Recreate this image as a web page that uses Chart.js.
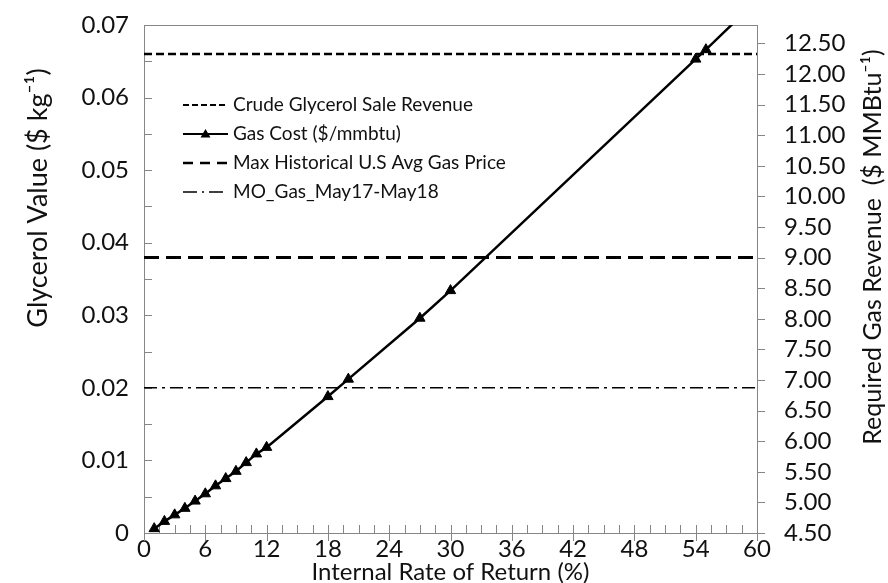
<!DOCTYPE html>
<html><head><meta charset="utf-8">
<script src="https://cdn.jsdelivr.net/npm/chart.js@4.4.1/dist/chart.umd.min.js"></script>
<style>html,body{margin:0;padding:0;background:#fff;}#wrap{width:888px;height:583px;}</style>
</head><body><div id="wrap"><canvas id="c" width="888" height="583"></canvas></div>
<script>
// ---- data ----
const irr = [1,2,3,4,5,6,7,8,9,10,11,12,18,20,27,30,54,55,60];
const gasCost = [0.0006,0.0016,0.0025,0.0034,0.0044,0.0054,0.0065,0.0075,0.0085,0.0097,0.0109,0.0118,0.0188,0.0212,0.0296,0.0334,0.0653,0.0666,0.0734];
const markerShown = [1,1,1,1,1,1,1,1,1,1,1,1,1,1,1,1,1,1,0];
const refX = [0, 60];
const crudeGlycerolValue = 0.066;   // left axis ($ kg-1)
const maxHistGasValue = 9.0;        // right axis ($ MMBtu-1)
const moGasValue = 0.02;            // left axis ($ kg-1)
const xTicks = [0,6,12,18,24,30,36,42,48,54,60];
const leftTicks = [0,0.01,0.02,0.03,0.04,0.05,0.06,0.07];
const rightTicks = [4.5,5,5.5,6,6.5,7,7.5,8,8.5,9,9.5,10,10.5,11,11.5,12,12.5];
const legendLabels = ['Crude Glycerol Sale Revenue','Gas Cost ($/mmbtu)','Max Historical U.S Avg Gas Price','MO_Gas_May17-May18'];
const xTitle = 'Internal Rate of Return (%)';
const leftTitle = 'Glycerol Value ($ kg\u207B\u00B9)';
const rightTitle = 'Required Gas Revenue  ($ MMBtu\u207B\u00B9)';

const FONT = 'Lato, "Open Sans", sans-serif';
const AXIS = '#868686';
const TXT = '#111';

const pts = (xs, ys) => xs.map((x, i) => ({x, y: ys[i]}));
const flat = (v) => refX.map(x => ({x, y: v}));

const datasets = [
  {label: legendLabels[0], data: flat(crudeGlycerolValue), yAxisID: 'y', borderColor: '#000', borderWidth: 2.5, borderDash: [8,4], pointRadius: 0, legendDash: [6,3]},
  {label: legendLabels[1], data: pts(irr, gasCost), yAxisID: 'y', borderColor: '#000', borderWidth: 2.5, pointStyle: 'triangle',
   pointRadius: markerShown.map(m => m ? 6 : 0), pointBackgroundColor: '#000', pointBorderColor: '#000', pointBorderWidth: 1, legendDash: []},
  {label: legendLabels[2], data: flat(maxHistGasValue), yAxisID: 'y2', borderColor: '#000', borderWidth: 3, borderDash: [15,7], pointRadius: 0, legendDash: [10,7]},
  {label: legendLabels[3], data: flat(moGasValue), yAxisID: 'y', borderColor: '#000', borderWidth: 1.5, borderDash: [13,5,3,5], pointRadius: 0, legendDash: [14,5,2,5]}
];

function drawVTitle(ctx, text, x, y, size) {
  ctx.save();
  ctx.fillStyle = TXT;
  ctx.font = size + 'px ' + FONT;
  ctx.textAlign = 'center'; ctx.textBaseline = 'middle';
  ctx.translate(x, y);
  ctx.rotate(-Math.PI / 2);
  ctx.fillText(text, 0, 0);
  ctx.restore();
}

const frameAndTicks = {
  id: 'frameAndTicks',
  beforeDatasetsDraw(chart) {
    const {ctx, chartArea: a, scales} = chart;
    ctx.save();
    ctx.strokeStyle = AXIS; ctx.lineWidth = 1;
    ctx.strokeRect(a.left + 0.5, a.top + 0.5, a.right - a.left, a.bottom - a.top);
    ctx.beginPath();
    for (let i = 0; i <= 14; i++) {
      const y = Math.round(scales.y.getPixelForValue(i * 0.005)) + 0.5;
      ctx.moveTo(a.left, y); ctx.lineTo(a.left + 8, y);
    }
    for (let i = 0; i <= 40; i++) {
      const v = i * 1.5;
      const x = Math.round(scales.x.getPixelForValue(v)) + 0.5;
      const major = (i % 4 === 0);
      ctx.moveTo(x, a.bottom - 8); ctx.lineTo(x, major ? a.bottom + 8 : a.bottom);
    }
    rightTicks.forEach(v => {
      const y = Math.round(scales.y2.getPixelForValue(v)) + 0.5;
      ctx.moveTo(a.right, y); ctx.lineTo(a.right + 8, y);
    });
    ctx.stroke();
    ctx.restore();
  },
  afterDraw(chart) {
    const {ctx, chartArea: a} = chart;
    drawVTitle(ctx, leftTitle, 38, 198, 27);
    drawVTitle(ctx, rightTitle, chart.width - 15, 247, 25);
    // x title
    ctx.save();
    ctx.fillStyle = TXT; ctx.font = '24px ' + FONT;
    ctx.textAlign = 'center'; ctx.textBaseline = 'middle';
    ctx.fillText(xTitle, (a.left + a.right) / 2, 572);
    ctx.restore();
    // legend
    ctx.save();
    ctx.font = '19px ' + FONT;
    ctx.textBaseline = 'middle'; ctx.textAlign = 'left'; ctx.fillStyle = TXT;
    const x0 = a.left + 39, x1 = a.left + 84, tx = a.left + 89;
    chart.data.datasets.forEach((ds, i) => {
      const y = a.top + 80 + i * 29;
      ctx.strokeStyle = '#000';
      ctx.lineWidth = Math.max(1.5, ds.borderWidth - 0.5);
      ctx.setLineDash(ds.legendDash);
      ctx.beginPath(); ctx.moveTo(x0, y); ctx.lineTo(x1, y); ctx.stroke();
      ctx.setLineDash([]);
      if (ds.pointStyle === 'triangle') {
        const cx = (x0 + x1) / 2, r = 5;
        ctx.fillStyle = '#000';
        ctx.beginPath();
        ctx.moveTo(cx, y - r); ctx.lineTo(cx + r, y + r * 0.7); ctx.lineTo(cx - r, y + r * 0.7); ctx.closePath();
        ctx.fill();
        ctx.fillStyle = TXT;
      }
      ctx.fillText(ds.label, tx, y);
    });
    ctx.restore();
  }
};

const noPadV = s => { s.paddingTop = 0; s.paddingBottom = 0; };

new Chart(document.getElementById('c'), {
  type: 'line',
  data: {datasets},
  options: {
    responsive: false, animation: false, devicePixelRatio: 1,
    layout: {padding: {top: 25, left: 0, right: 0, bottom: 0}},
    plugins: {legend: {display: false}, tooltip: {enabled: false}},
    elements: {line: {tension: 0}},
    scales: {
      x: {
        type: 'linear', position: 'bottom', min: 0, max: 60,
        afterBuildTicks: s => { s.ticks = xTicks.map(v => ({value: v})); },
        afterFit: s => { s.height = 50; s.paddingLeft = 0; s.paddingRight = 0; },
        grid: {display: false, drawTicks: false}, border: {display: false},
        ticks: {font: {family: FONT, size: 24}, color: TXT, padding: 2, maxRotation: 0, autoSkip: false}
      },
      y: {
        type: 'linear', position: 'left', min: 0, max: 0.07,
        afterBuildTicks: s => { s.ticks = leftTicks.map(v => ({value: v})); },
        afterFit: s => { s.width = 144; noPadV(s); },
        grid: {display: false, drawTicks: false}, border: {display: false},
        ticks: {font: {family: FONT, size: 24}, color: TXT, padding: 15, autoSkip: false, callback: v => v === 0 ? '0' : v.toFixed(2)}
      },
      y2: {
        type: 'linear', position: 'right', min: 4.5, max: 12.8,
        afterBuildTicks: s => { s.ticks = rightTicks.map(v => ({value: v})); },
        afterFit: s => { s.width = 131; noPadV(s); },
        grid: {display: false, drawTicks: false}, border: {display: false},
        ticks: {font: {family: FONT, size: 24}, color: TXT, padding: 27, autoSkip: false, callback: v => v.toFixed(2)}
      }
    }
  },
  plugins: [frameAndTicks]
});
</script>
</body></html>
